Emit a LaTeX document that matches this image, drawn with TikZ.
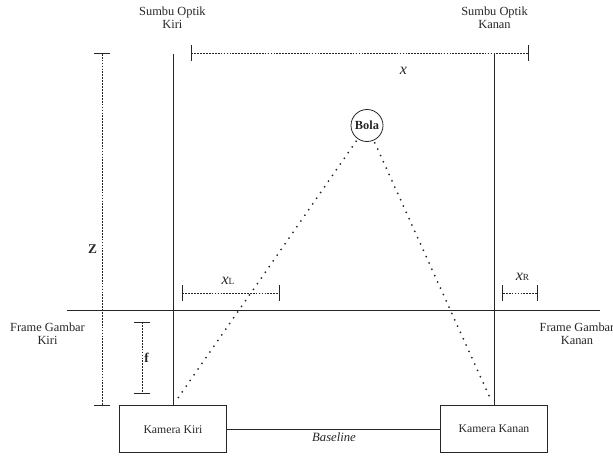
\documentclass[tikz,border=0pt]{standalone}
\usepackage{fontspec}
\setmainfont{Liberation Serif}
\usepackage{tikz}
\usetikzlibrary{arrows.meta}
\usetikzlibrary{positioning}
\tikzset{
    kamera/.style = {draw, minimum width=80pt, minimum height=35pt, inner sep=1pt, font=\fontsize{8.8}{9.5}\selectfont},
    keterangan/.style = {align=center, inner sep=0pt, font=\fontsize{9.3}{9.8}\selectfont},
    simbol/.style = {inner sep=0pt, font=\fontsize{10}{11}\selectfont},
    jarak/.style = {inner sep=0pt, font=\fontsize{12}{13}\selectfont\itshape},
    ukuran/.style = {dash pattern=on 1.3pt off 0.9pt, {Bar[width=12pt]}-{Bar[width=12pt]}},
    sinar/.style = {line width=1.5pt, dash pattern=on 0pt off 5.2pt, line cap=round, shorten <=2pt},
    >=Latex
}
\newcommand{\indeks}[1]{{\fontsize{7}{8}\selectfont\upshape #1}}

\begin{document}
\begin{tikzpicture}[x=0.75pt, y=-0.75pt, line width=0.6pt, color=black!85]
    \useasboundingbox (0,0) rectangle (613,456);
    % kamera dan baseline
    \node[kamera] (kiri) at (173,429.2) {Kamera Kiri};
    \node[kamera] (kanan) at (494,429.2) {Kamera Kanan};
    \draw (kiri) -- (kanan);
    \node[keterangan, font=\fontsize{9.5}{10}\selectfont\itshape] (baseline) at (334,437.5) {Baseline};
    % sumbu optik
    \coordinate (atasKiri) at (173,54);
    \coordinate (atasKanan) at (494,54);
    \draw (kiri.north) -- (atasKiri);
    \draw (kanan.north) -- (atasKanan);
    \node[keterangan] (sumbuKiri) at (172.4,17.5) {Sumbu Optik\\Kiri};
    \node[keterangan] (sumbuKanan) at (494.5,17.5) {Sumbu Optik\\Kanan};
    % frame gambar
    \coordinate (frameA) at (66.5,310);
    \coordinate (frameB) at (600,310);
    \draw (frameA) -- (frameB);
    \node[keterangan] (frameKiri) at (47.5,334) {Frame Gambar\\Kiri};
    \node[keterangan] (frameKanan) at (577,334) {Frame Gambar\\Kanan};
    % bola dan sinar
    \node[circle, draw, minimum size=24pt, inner sep=0pt, font=\fontsize{9.3}{10}\selectfont\bfseries] (bola) at (367,125.5) {Bola};
    \coordinate (ujungKiri) at (176,401);
    \coordinate (ujungKanan) at (491.4,401);
    \draw[sinar] (bola) -- (ujungKiri);
    \draw[sinar] (bola) -- (ujungKanan);
    % ukuran x, Z, xL, xR, f
    \coordinate (xA) at (190.8,53.3);
    \coordinate (xB) at (528.9,53.3);
    \draw[ukuran] (xA) -- (xB);
    \node[jarak] (labelX) at (403.5,70.5) {x};
    \coordinate (zA) at (102,53.3);
    \coordinate (zB) at (102,405.7);
    \draw[ukuran] (zA) -- (zB);
    \node[simbol] (labelZ) at (92.6,249.3) {\textbf{Z}};
    \coordinate (xlA) at (181.8,293.3);
    \coordinate (xlB) at (279.5,293.3);
    \draw[ukuran] (xlA) -- (xlB);
    \node[jarak] (labelXL) at (228,281.2) {x\indeks{L}};
    \coordinate (xrA) at (502.3,293.3);
    \coordinate (xrB) at (537.5,293.3);
    \draw[ukuran] (xrA) -- (xrB);
    \node[jarak] (labelXR) at (522.5,276.5) {x\indeks{R}};
    \coordinate (fA) at (141.9,321.7);
    \coordinate (fB) at (141.9,393.3);
    \draw[ukuran] (fA) -- (fB);
    \node[simbol] (labelF) at (146.6,357.7) {\textbf{f}};
\end{tikzpicture}
\end{document}
